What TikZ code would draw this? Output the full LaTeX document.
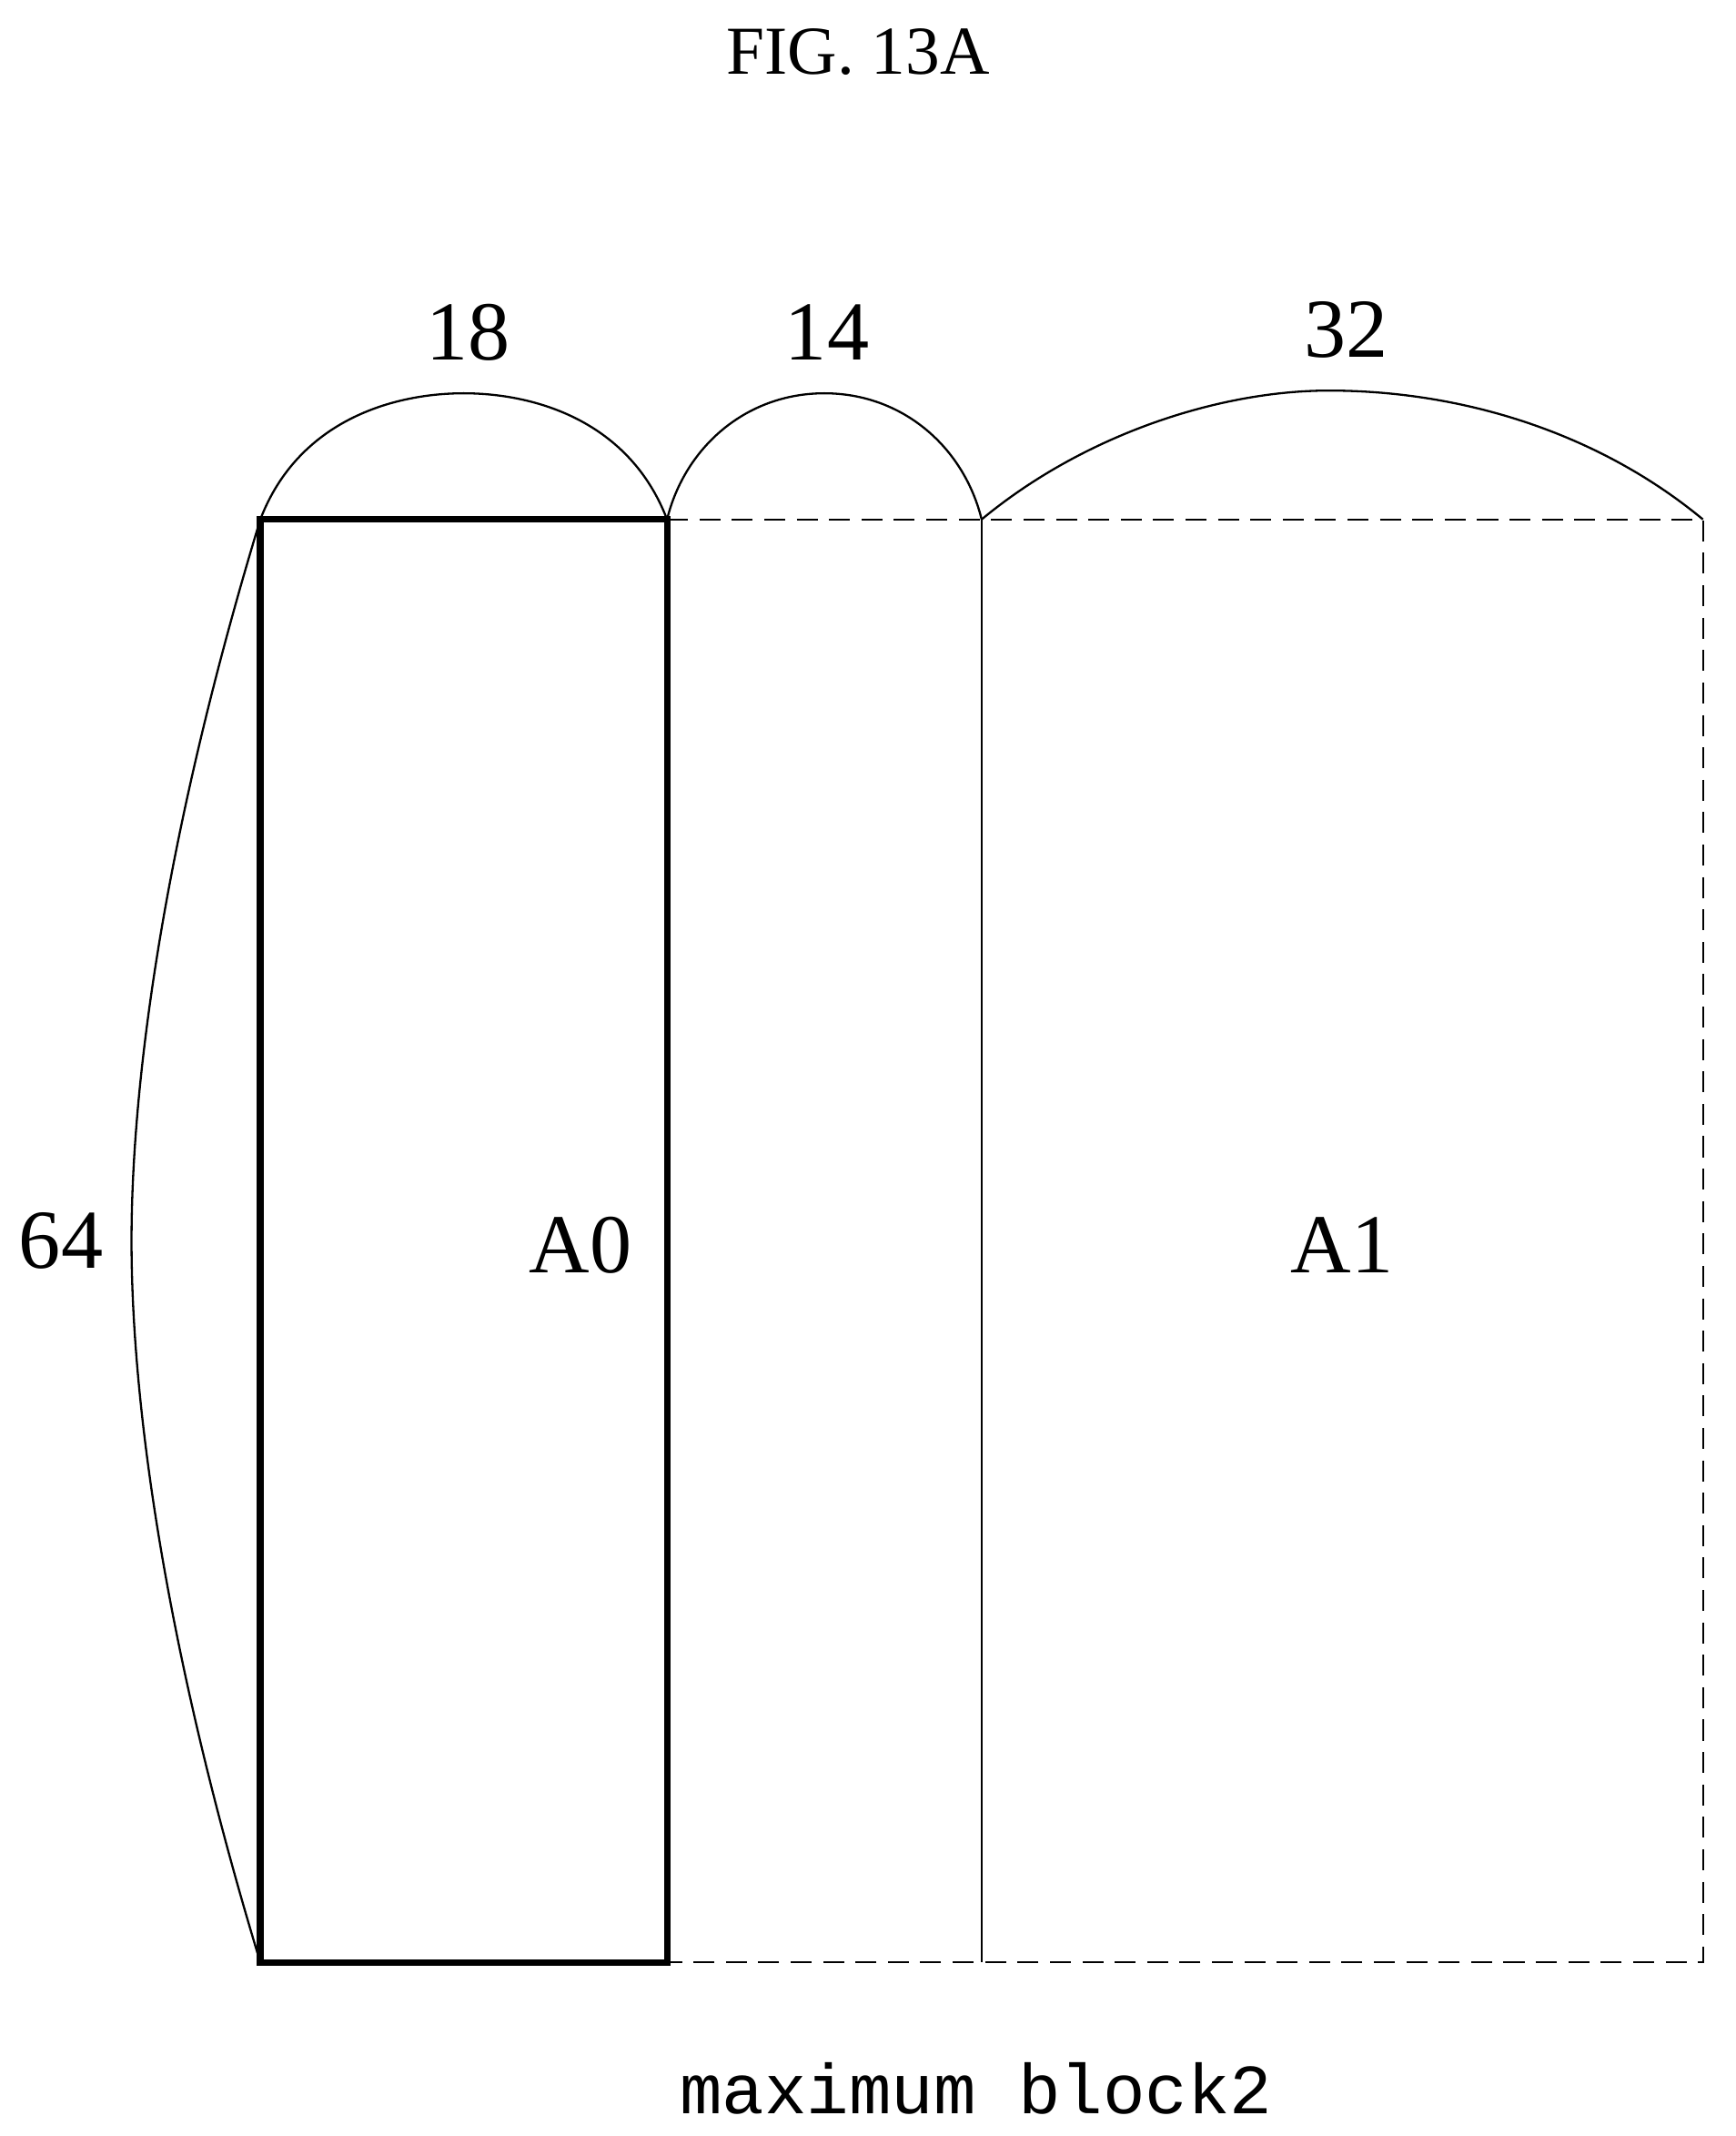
\documentclass[tikz,border=0pt]{standalone}
\usepackage{fontspec}
\setmainfont{Liberation Serif}
\setmonofont{Liberation Mono}
\begin{document}
\begin{tikzpicture}[x=0.05cm,y=-0.05cm,
  thin line/.style={line width=2.2pt},
  thick line/.style={line width=7pt},
  dash line/.style={line width=2.2pt,dash pattern=on 22pt off 12pt},
  lab/.style={font=\fontsize{88}{88}\selectfont}]
\useasboundingbox (0,0) rectangle (1280,1575);
\node[font=\fontsize{72}{72}\selectfont] (fig) at (633,38) {FIG. 13A};
\coordinate (tl) at (192,383); \coordinate (tm) at (492,383);
\coordinate (tv) at (724,383); \coordinate (tr) at (1256,383);
\coordinate (bl) at (192,1447); \coordinate (bm) at (492,1447);
\coordinate (bv) at (724,1447); \coordinate (br) at (1256,1447);
\draw[dash line] (tm) -- (tr) -- (br) -- (bm);
\draw[thin line] (tv) -- (bv);
\draw[thick line] (tl) rectangle (bm);
\draw[thin line] (tl) .. controls (220,310) and (290,290) .. (342,290) .. controls (394,290) and (464,310) .. (tm);
\draw[thin line] (tm) .. controls (505,330) and (550,290) .. (608,290) .. controls (666,290) and (711,330) .. (tv);
\draw[thin line] (tv) .. controls (800,320) and (900,288) .. (980,288) .. controls (1080,288) and (1180,320) .. (tr);
\draw[thin line] (tl) .. controls (120,620) and (97,800) .. (97,915) .. controls (97,1030) and (120,1210) .. (bl);
\node[lab] (n18) at (345,245) {18};
\node[lab] (n14) at (610,245) {14};
\node[lab] (n32) at (993,243) {32};
\node[lab] (n64) at (45,915) {64};
\node[lab] (a0) at (428,918) {A0};
\node[lab] (a1) at (990,918) {A1};
\node[font=\ttfamily\fontsize{74}{74}\selectfont] (mb) at (720,1540) {maximum block2};
\end{tikzpicture}
\end{document}
